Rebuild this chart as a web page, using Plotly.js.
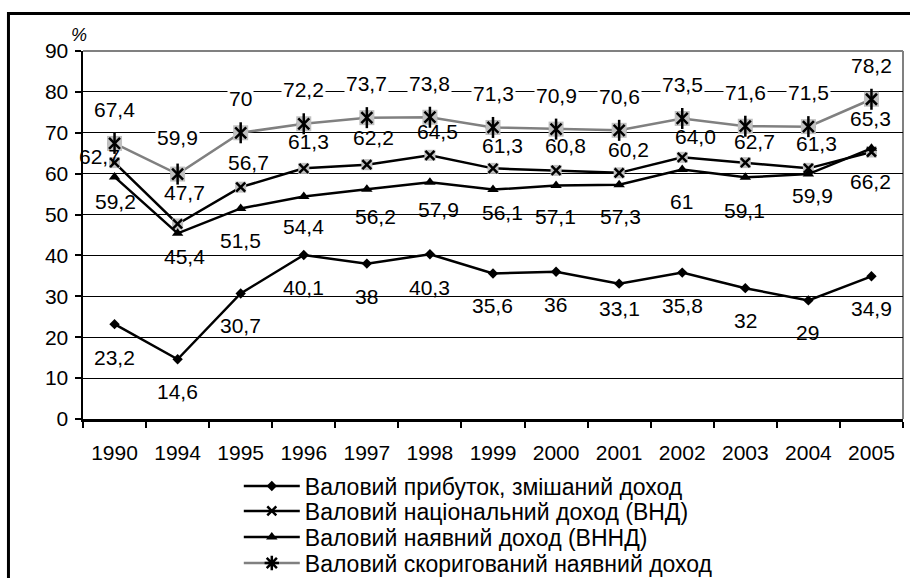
<!DOCTYPE html>
<html>
<head>
<meta charset="utf-8">
<script src="https://cdn.plot.ly/plotly-3.0.1.min.js"></script>
<style>
  html, body { margin: 0; padding: 0; background: #fff; }
  #chart { width: 910px; height: 578px; }
</style>
</head>
<body>
<div id="chart"></div>
<script>
// Years on the category axis
const years = ['1990', '1994', '1995', '1996', '1997', '1998', '1999', '2000', '2001', '2002', '2003', '2004', '2005'];

// Shares, %
const grossProfit = [23.2, 14.6, 30.7, 40.1, 38, 40.3, 35.6, 36, 33.1, 35.8, 32, 29, 34.9];
const grossNationalIncome = [62.7, 47.7, 56.7, 61.3, 62.2, 64.5, 61.3, 60.8, 60.2, 64.0, 62.7, 61.3, 65.3];
const grossDisposableIncome = [59.2, 45.4, 51.5, 54.4, 56.2, 57.9, 56.1, 57.1, 57.3, 61, 59.1, 59.9, 66.2];
const adjustedDisposableIncome = [67.4, 59.9, 70, 72.2, 73.7, 73.8, 71.3, 70.9, 70.6, 73.5, 71.6, 71.5, 78.2];

const seriesNames = [
  'Валовий прибуток, змішаний доход',
  'Валовий національний доход (ВНД)',
  'Валовий наявний доход (ВННД)',
  'Валовий скоригований наявний доход'
];

const FONT = 'Liberation Sans, Arial, sans-serif';
const BLACK = '#000000';
const GREY_LINE = '#808080';
const GREY_FILL = '#c0c0c0';
const LABEL_SIZE = 21;

// Data-label placement per point (pixel shifts: right, down)
const labelShift = {
  profit: [[0,33],[0,32],[0,32],[0,32],[0,33],[0,33],[-1,32],[-1,33],[0,25],[0,33],[0,32],[-1,32],[0,32]],
  gni:    [[-15,-6],[7,-31],[8,-25],[5,-27],[7,-27],[8,-24],[9,-23],[9,-25],[9,-23],[13,-21],[9,-21],[8,-25],[-1,-34]],
  gndi:   [[1,25],[7,23],[0,32],[0,30],[9,27],[9,27],[9,23],[-1,31],[1,32],[-1,32],[-1,33],[4,21],[-1,33]],
  adj:    [[0,-34],[0,-37],[0,-34],[0,-34],[0,-34],[0,-34],[0,-34],[0,-34],[0,-34],[0,-34],[0,-34],[0,-34],[0,-34]]
};

function fmt(v, fixed) {
  const s = fixed ? v.toFixed(1) : String(v);
  return s.replace('.', ',');
}

// On a category axis annotations are placed by category index
function labels(values, shifts, fixed, bg) {
  return values.map((v, i) => ({
    x: years.indexOf(years[i]), y: v, xref: 'x', yref: 'y',
    text: fmt(v, fixed), showarrow: false,
    xanchor: 'center', yanchor: 'middle',
    xshift: shifts[i][0], yshift: -shifts[i][1],
    font: { family: FONT, size: LABEL_SIZE, color: BLACK },
    bgcolor: bg || 'rgba(0,0,0,0)', borderpad: 1
  }));
}

const traces = [
  // Gross profit, mixed income
  {
    x: years, y: grossProfit, name: seriesNames[0], type: 'scatter', mode: 'lines+markers', legend: 'legend',
    line: { color: BLACK, width: 2.5 },
    marker: { symbol: 'diamond', size: 8, color: BLACK }
  },
  // Gross national income: line with x markers on grey squares
  {
    x: years, y: grossNationalIncome, name: seriesNames[1], type: 'scatter', mode: 'lines+markers', legend: 'legend2',
    line: { color: BLACK, width: 2.5 },
    marker: { symbol: 'x-thin-open', size: 9, color: BLACK, line: { color: BLACK, width: 2.5 } }
  },
  {
    x: years, y: grossNationalIncome, type: 'scatter', mode: 'markers', showlegend: false, hoverinfo: 'skip',
    marker: { symbol: 'square', size: 11, color: GREY_FILL, line: { width: 0 } }
  },
  {
    x: years, y: grossNationalIncome, type: 'scatter', mode: 'markers', showlegend: false, hoverinfo: 'skip',
    marker: { symbol: 'x-thin-open', size: 9, color: BLACK, line: { color: BLACK, width: 2.5 } }
  },
  // Gross disposable income
  {
    x: years, y: grossDisposableIncome, name: seriesNames[2], type: 'scatter', mode: 'lines+markers', legend: 'legend3',
    line: { color: BLACK, width: 2.5 },
    marker: { symbol: 'triangle-up', size: 10, color: BLACK }
  },
  // Adjusted gross disposable income: grey line, asterisk on grey squares
  {
    x: years, y: adjustedDisposableIncome, name: seriesNames[3], type: 'scatter', mode: 'lines+markers', legend: 'legend4',
    line: { color: GREY_LINE, width: 2.5 },
    marker: { symbol: 'asterisk-open', size: 12, color: BLACK, line: { color: BLACK, width: 2.5 } }
  },
  {
    x: years, y: adjustedDisposableIncome, type: 'scatter', mode: 'markers', showlegend: false, hoverinfo: 'skip',
    marker: { symbol: 'square', size: 15, color: GREY_FILL, line: { width: 0 } }
  },
  {
    x: years, y: adjustedDisposableIncome, type: 'scatter', mode: 'markers', showlegend: false, hoverinfo: 'skip',
    marker: { symbol: 'x-thin-open', size: 11, color: BLACK, line: { color: BLACK, width: 2.5 } }
  },
  {
    x: years, y: adjustedDisposableIncome, type: 'scatter', mode: 'markers', showlegend: false, hoverinfo: 'skip',
    marker: { symbol: 'line-ns-open', size: 15, color: BLACK, line: { color: BLACK, width: 2.5 } }
  }
];

const annotations = [].concat(
  labels(grossProfit, labelShift.profit, false),
  labels(grossNationalIncome, labelShift.gni, true),
  labels(grossDisposableIncome, labelShift.gndi, false),
  labels(adjustedDisposableIncome, labelShift.adj, false, '#ffffff'),
  [{
    xref: 'paper', yref: 'paper', x: -0.005, y: 1.0435,
    xanchor: 'center', yanchor: 'middle', showarrow: false,
    text: '<i>%</i>', font: { family: FONT, size: 18, color: BLACK }
  }]
);

// One legend box per row so each row sits at its own height
function legendRow(y) {
  return {
    orientation: 'v', x: 0.19, xanchor: 'left', y: y, yanchor: 'middle',
    font: { family: FONT, size: 23, color: BLACK },
    bgcolor: 'rgba(0,0,0,0)', borderwidth: 0, itemwidth: 56
  };
}

const layout = {
  width: 910, height: 578,
  margin: { l: 83, r: 7, t: 51, b: 159, pad: 0, autoexpand: false },
  paper_bgcolor: '#ffffff', plot_bgcolor: '#ffffff',
  font: { family: FONT, size: 21, color: BLACK },
  showlegend: true,
  xaxis: {
    type: 'category', categoryorder: 'array', categoryarray: years,
    range: [-0.5, years.length - 0.5],
    showline: true, linecolor: BLACK, linewidth: 2.5,
    ticks: 'outside', tickson: 'boundaries', ticklen: 6, tickwidth: 2, tickcolor: BLACK,
    showgrid: false, zeroline: false, tickangle: 0, ticklabelstandoff: 13,
    tickfont: { family: FONT, size: 21, color: BLACK }
  },
  yaxis: {
    range: [0, 90], dtick: 10, tick0: 0,
    showline: true, linecolor: BLACK, linewidth: 2.5,
    ticks: 'outside', ticklen: 6, tickwidth: 2, tickcolor: BLACK,
    showgrid: true, gridcolor: BLACK, gridwidth: 1, zeroline: false, ticklabelstandoff: 2,
    tickfont: { family: FONT, size: 21, color: BLACK }
  },
  legend: legendRow(-0.1821),
  legend2: legendRow(-0.2500),
  legend3: legendRow(-0.3207),
  legend4: legendRow(-0.3913),
  shapes: [
    // plot-area frame: top and right edges
    { type: 'line', xref: 'paper', yref: 'paper', x0: 0, x1: 1, y0: 1, y1: 1, line: { color: GREY_LINE, width: 2 }, layer: 'below' },
    { type: 'line', xref: 'paper', yref: 'paper', x0: 1, x1: 1, y0: 0, y1: 1, line: { color: GREY_LINE, width: 2 }, layer: 'below' },
    // outer chart border
    { type: 'rect', xref: 'paper', yref: 'paper', x0: -0.0909, x1: 1.0146, y0: -0.4647, y1: 1.1019, line: { color: BLACK, width: 3 }, fillcolor: 'rgba(0,0,0,0)' }
  ],
  annotations: annotations
};

Plotly.newPlot('chart', traces, layout, { displayModeBar: false, staticPlot: true });
</script>
</body>
</html>
